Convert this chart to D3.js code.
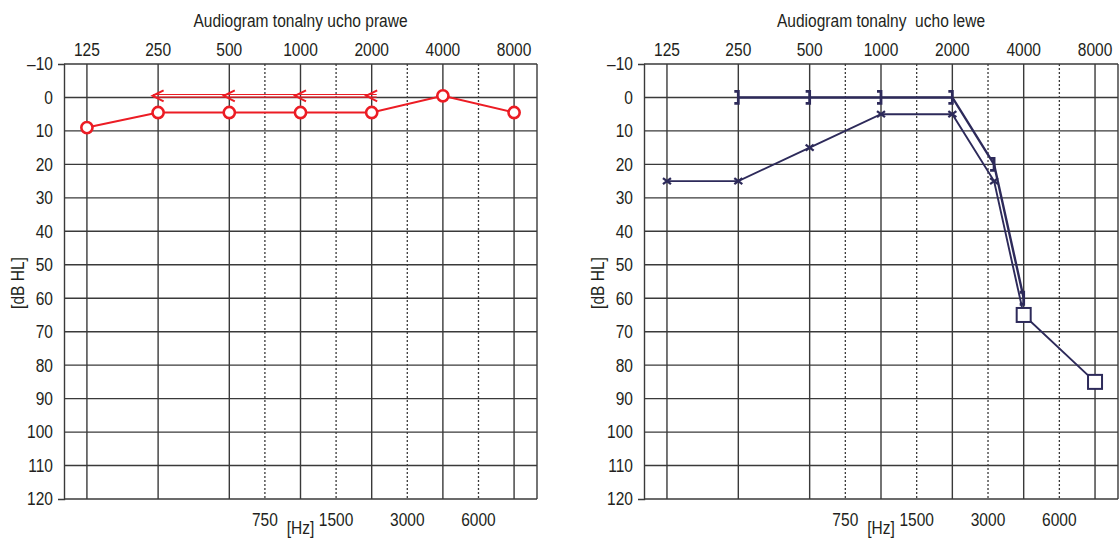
<!DOCTYPE html>
<html>
<head>
<meta charset="utf-8">
<script src="https://cdn.jsdelivr.net/npm/d3@7"></script>
<style>
  body { margin: 0; background: #fff; }
  text { font-family: "Liberation Sans", Arial, sans-serif; fill: #231f20; }
</style>
</head>
<body>
<svg id="chart" width="1120" height="538"></svg>
<script>
// Frequencies (Hz) and hearing levels (dB HL)
const octaveFreqs = [125, 250, 500, 1000, 2000, 4000, 8000];
const interFreqs = [750, 1500, 3000, 6000];
const dbLevels = [-10, 0, 10, 20, 30, 40, 50, 60, 70, 80, 90, 100, 110, 120];

// Right ear: air conduction (circles) and bone conduction (<)
const rightAirFreq = [125, 250, 500, 1000, 2000, 4000, 8000];
const rightAirDb   = [9, 4.5, 4.5, 4.5, 4.5, -0.5, 4.5];
const rightBoneFreq = [250, 500, 1000, 2000];
const rightBoneDb   = [-0.5, -0.5, -0.5, -0.5];

// Left ear: air conduction (x), masked air conduction (squares), bone conduction (])
const leftAirFreq = [125, 250, 500, 1000, 2000, 3000];
const leftAirDb   = [25, 25, 15, 5, 5, 25];
const leftMaskedFreq = [4000, 8000];
const leftMaskedDb   = [65, 85];
const leftBoneFreq = [250, 500, 1000, 2000, 3000, 4000];
const leftBoneDb   = [0, 0, 0, 0, 20, 60];

const RED = "#ec1c24";
const NAVY = "#2d2a5a";
const GRID = "#3a3a3a";
const FONT_SIZE = 18.5;
const SQUEEZE = 0.84;   // horizontal condensing of all labels

const zip = (fs, ds) => fs.map((f, i) => ({ f, db: ds[i] }));

const svg = d3.select("#chart");

// condensed text placed at (x, y)
function label(parent, x, y, str, anchor = "middle", rotate = 0) {
  return parent.append("text")
    .attr("transform", `translate(${x},${y}) rotate(${rotate}) scale(${SQUEEZE},1)`)
    .attr("text-anchor", anchor)
    .attr("font-size", FONT_SIZE)
    .style("white-space", "pre")
    .text(str);
}

function panel(opts) {
  const x = d3.scaleLog().domain([100, 10000]).range([opts.x0, opts.x1]);
  const y = d3.scaleLinear().domain([-10, 120]).range([64, 499]);
  const g = svg.append("g");
  // inter-octave lines sit halfway between neighbouring octaves
  const mid = f => Math.sqrt((f / 1.5) * (f / 0.75));

  label(g, (opts.x0 + opts.x1) / 2, 27, opts.title);

  // horizontal grid
  g.selectAll("line.h").data(dbLevels).join("line")
    .attr("x1", opts.x0).attr("x2", opts.x1)
    .attr("y1", d => y(d)).attr("y2", d => y(d))
    .attr("stroke", GRID).attr("stroke-width", 1.4);

  // octave verticals
  g.selectAll("line.v").data(octaveFreqs).join("line")
    .attr("x1", d => x(d)).attr("x2", d => x(d))
    .attr("y1", y(-10)).attr("y2", y(120))
    .attr("stroke", GRID).attr("stroke-width", 1.4);

  // inter-octave dotted verticals
  g.selectAll("line.d").data(interFreqs).join("line")
    .attr("x1", d => x(mid(d))).attr("x2", d => x(mid(d)))
    .attr("y1", y(-10)).attr("y2", y(120))
    .attr("stroke", GRID).attr("stroke-width", 1.3)
    .attr("stroke-dasharray", "2,2");

  // right border
  g.append("line")
    .attr("x1", opts.x1).attr("x2", opts.x1)
    .attr("y1", y(-10)).attr("y2", y(120))
    .attr("stroke", GRID).attr("stroke-width", 1.4);

  // y axis
  const pad = 11;
  const yAxis = d3.axisLeft(y).tickValues(dbLevels)
    .tickSize(0).tickSizeOuter(6).tickPadding(pad)
    .tickFormat(d => d < 0 ? "\u2013" + Math.abs(d) : d);
  const ya = g.append("g").attr("transform", `translate(${opts.x0},0)`).call(yAxis);
  ya.attr("font-family", null).attr("font-size", null);
  ya.select(".domain").attr("stroke", GRID).attr("stroke-width", 1.4);
  ya.selectAll(".tick text")
    .attr("font-size", FONT_SIZE).attr("fill", "#231f20")
    .attr("x", -pad / SQUEEZE)
    .attr("transform", `scale(${SQUEEZE},1)`);

  // top frequency labels
  octaveFreqs.forEach(f => label(g, x(f), 56, String(f)));

  // bottom inter-octave labels
  interFreqs.forEach(f => label(g, x(mid(f)), 526, String(f)));
  label(g, x(1000), 534, "[Hz]");

  label(g, opts.x0 - 40, 283, "[dB HL]", "middle", -90);

  return { g, x, y };
}

// ---- Right ear panel ----
{
  const { g, x, y } = panel({ title: "Audiogram tonalny ucho prawe", x0: 64, x1: 537 });
  const bone = zip(rightBoneFreq, rightBoneDb);
  const air = zip(rightAirFreq, rightAirDb);

  // bone conduction: double line with "<" symbols
  const bx0 = x(bone[0].f) - 5, bx1 = x(bone[bone.length - 1].f) + 5;
  [-1.3, 1.3].forEach(off => {
    g.append("line")
      .attr("x1", bx0).attr("x2", bx1)
      .attr("y1", y(bone[0].db) + off).attr("y2", y(bone[0].db) + off)
      .attr("stroke", RED).attr("stroke-width", 1.1);
  });
  g.selectAll("path.bc").data(bone).join("path")
    .attr("d", d => `M${x(d.f) + 5.5},${y(d.db) - 5.5} L${x(d.f) - 5.5},${y(d.db)} L${x(d.f) + 5.5},${y(d.db) + 5.5}`)
    .attr("fill", "none").attr("stroke", RED).attr("stroke-width", 2);

  g.append("path").datum(air)
    .attr("d", d3.line().x(d => x(d.f)).y(d => y(d.db)))
    .attr("fill", "none").attr("stroke", RED).attr("stroke-width", 2);
  g.selectAll("circle").data(air).join("circle")
    .attr("cx", d => x(d.f)).attr("cy", d => y(d.db)).attr("r", 5.6)
    .attr("fill", "#fff").attr("stroke", RED).attr("stroke-width", 2.6);
}

// ---- Left ear panel ----
{
  const { g, x, y } = panel({ title: "Audiogram tonalny  ucho lewe", x0: 644, x1: 1118 });
  const air = zip(leftAirFreq, leftAirDb);
  const masked = zip(leftMaskedFreq, leftMaskedDb);
  const bone = zip(leftBoneFreq, leftBoneDb);
  const line = d3.line().x(d => x(d.f)).y(d => y(d.db));

  g.append("path").datum(bone).attr("d", line)
    .attr("fill", "none").attr("stroke", NAVY).attr("stroke-width", 2.4);
  g.append("path").datum(air.concat(masked)).attr("d", line)
    .attr("fill", "none").attr("stroke", NAVY).attr("stroke-width", 1.9);

  g.selectAll("path.bc").data(bone).join("path")
    .attr("d", d => `M${x(d.f) - 4},${y(d.db) - 6} H${x(d.f)} V${y(d.db) + 6} H${x(d.f) - 4}`)
    .attr("fill", "none").attr("stroke", NAVY).attr("stroke-width", 2.8);

  g.selectAll("path.ac").data(air).join("path")
    .attr("d", d => `M${x(d.f) - 4},${y(d.db) - 3} L${x(d.f) + 4},${y(d.db) + 3} M${x(d.f) - 4},${y(d.db) + 3} L${x(d.f) + 4},${y(d.db) - 3}`)
    .attr("fill", "none").attr("stroke", NAVY).attr("stroke-width", 2.3);

  g.selectAll("rect").data(masked).join("rect")
    .attr("x", d => x(d.f) - 7).attr("y", d => y(d.db) - 7)
    .attr("width", 14).attr("height", 14)
    .attr("fill", "#fff").attr("stroke", NAVY).attr("stroke-width", 2);
}
</script>
</body>
</html>
